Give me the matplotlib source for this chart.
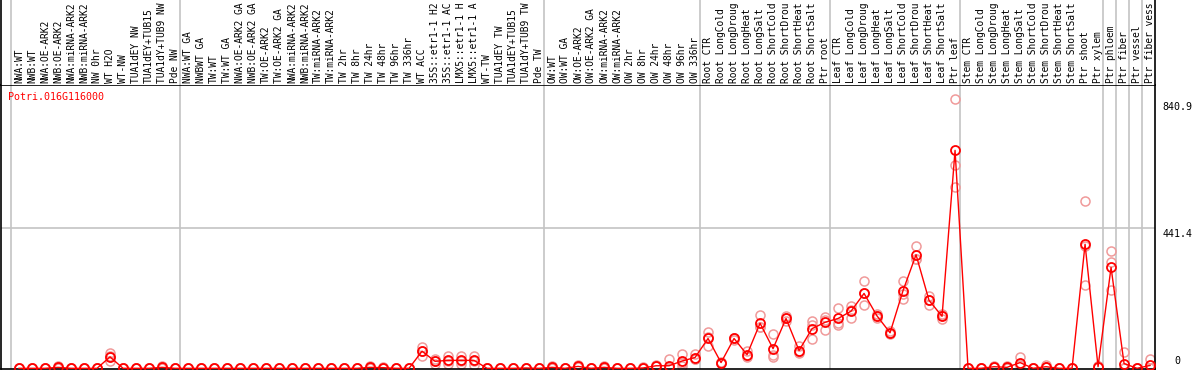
import matplotlib
matplotlib.use("Agg")
import matplotlib.pyplot as plt
import numpy as np

gene = "Potri.016G116000"

# sample names as far as the header shows them
labels = [
    # NW
    "NWA:WT", "NWB:WT", "NWA:OE-ARK2", "NWB:OE-ARK2", "NWA:miRNA-ARK2", "NWB:miRNA-ARK2",
    "NW 0hr", "WT H2O", "WT-NW", "TUA1dEY NW", "TUA1dEY+TUB15", "TUA1dY+TUB9 NW", "Pde NW",
    # TW
    "NWA:WT GA", "NWBWT GA", "TW:WT", "TW:WT GA", "NWA:OE-ARK2 GA", "NWB:OE-ARK2 GA",
    "TW:OE-ARK2", "TW:OE-ARK2 GA", "NWA:miRNA-ARK2", "NWB:miRNA-ARK2", "TW:miRNA-ARK2",
    "TW:miRNA-ARK2", "TW 2hr", "TW 8hr", "TW 24hr", "TW 48hr", "TW 96hr", "TW 336hr",
    "WT ACC", "35S::etr1-1 H2", "35S::etr1-1 AC", "LMX5::etr1-1 H", "LMX5::etr1-1 A",
    "WT-TW", "TUA1dEY TW", "TUA1dEY+TUB15", "TUA1dY+TUB9 TW", "Pde TW",
    # OW
    "OW:WT", "OW:WT GA", "OW:OE-ARK2", "OW:OE-ARK2 GA", "OW:miRNA-ARK2", "OW:miRNA-ARK2",
    "OW 2hr", "OW 8hr", "OW 24hr", "OW 48hr", "OW 96hr", "OW 336hr",
    # root
    "Root CTR", "Root LongCold", "Root LongDroug", "Root LongHeat", "Root LongSalt",
    "Root ShortCold", "Root ShortDrou", "Root ShortHeat", "Root ShortSalt", "Ptr root",
    # leaf
    "Leaf CTR", "Leaf LongCold", "Leaf LongDroug", "Leaf LongHeat", "Leaf LongSalt",
    "Leaf ShortCold", "Leaf ShortDrou", "Leaf ShortHeat", "Leaf ShortSalt", "Ptr leaf",
    # stem
    "Stem CTR", "Stem LongCold", "Stem LongDroug", "Stem LongHeat", "Stem LongSalt",
    "Stem ShortCold", "Stem ShortDrou", "Stem ShortHeat", "Stem ShortSalt", "Ptr shoot", "Ptr xylem",
    "Ptr phloem", "Ptr fiber", "Ptr vessel", "Ptr fiber vess",
]
group_sizes = [13, 28, 12, 10, 10, 11, 1, 1, 1, 1]

means = [
    0, 0, 0, 3, 0, 0, 0, 36, 0, 0, 0, 3, 0,
    0, 0, 0, 0, 0, 0, 0, 0, 0, 0, 0, 0, 0, 0, 3, 2, 0, 0,
    54, 22, 25, 25, 25, 0, 0, 0, 1, 0,
    3, 0, 6, 0, 3, 0, 0, 1, 8, 8, 23, 34,
    94, 18, 94, 43, 142, 62, 157, 56, 125, 145,
    157, 180, 236, 165, 112, 245, 358, 214, 164, 687,
    0, 0, 5, 3, 18, 0, 5, 0, 0, 391, 5,
    318, 15, 0, 9,
]
rep_a = [
    0, 0, 0, 8, 0, 0, 0, 48, 0, 0, 0, 6, 0,
    0, 0, 0, 0, 0, 0, 0, 0, 0, 0, 0, 0, 0, 0, 6, 4, 0, 0,
    67, 28, 40, 40, 40, 0, 0, 0, 2, 0,
    6, 0, 10, 0, 8, 0, 0, 3, 10, 28, 44, 44,
    113, 20, 97, 55, 167, 107, 164, 69, 148, 162,
    191, 197, 274, 172, 118, 276, 386, 216, 168, 850,
    0, 0, 8, 6, 35, 0, 9, 0, 0, 526, 3,
    369, 51, 0, 28,
]
rep_b = [
    0, 0, 0, 2, 0, 0, 0, 22, 0, 0, 0, 2, 0,
    0, 0, 0, 0, 0, 0, 0, 0, 0, 0, 0, 0, 0, 0, 2, 1, 0, 0,
    38, 15, 13, 13, 11, 0, 0, 0, 0, 0,
    1, 0, 3, 0, 1, 0, 0, 0, 6, 5, 17, 28,
    70, 16, 90, 36, 130, 36, 150, 48, 91, 120,
    136, 160, 199, 158, 107, 220, 343, 199, 155, 640,
    0, 0, 3, 1, 10, 0, 3, 0, 0, 262, 6,
    336, 0, 0, 0,
]
rep_c = [
    0, 0, 0, 0, 0, 0, 0, 38, 0, 0, 0, 1, 0,
    0, 0, 0, 0, 0, 0, 0, 0, 0, 0, 0, 0, 0, 0, 1, 1, 0, 0,
    56, 23, 22, 22, 24, 0, 0, 0, 1, 0,
    2, 0, 5, 0, 0, 0, 0, 0, 8, 2, 8, 30,
    99, 18, 95, 38, 129, 43, 157, 51, 136, 153,
    144, 183, 237, 165, 112, 233, 346, 227, 170, 572,
    0, 0, 4, 2, 9, 0, 3, 0, 0, 385, 6,
    247, 0, 0, 0,
]
ytick_vals = [0, 441.4, 840.9]

W, H = 1194, 370
fig = plt.figure(figsize=(W / 100, H / 100), dpi=100)
left, right = 1 / W, 1155 / W
top_px = 85
ax = fig.add_axes([left, 1 / H, right - left, (H - top_px - 1) / H])
hd = fig.add_axes([left, (H - top_px) / H, right - left, top_px / H])

x = np.arange(len(labels))
xlim = (-1.385, 87.38)
grey = "#c4c4c4"
mono = "DejaVu Sans Mono"

# group separators
seps = np.cumsum([0] + group_sizes[:-1]) - 0.5 - 0.1
for a in (ax, hd):
    a.set_xlim(*xlim)
    for s in seps:
        a.axvline(s, color=grey, lw=1.2, zorder=0)
    a.set_xticks([])
    a.set_yticks([])

ax.axhline(441.4, color=grey, lw=1.2, zorder=0)

# replicates
for r in (rep_a, rep_b, rep_c):
    ax.plot(x, r, ls="none", marker="o", ms=6.5, mfc="none", mec="#f09a9a", mew=1.1, zorder=2)
ax.plot(x, means, color="red", lw=1.0, zorder=3)
ax.plot(x, means, ls="none", marker="o", ms=6.5, mfc="none", mec="red", mew=1.3, zorder=4)

ax.set_ylim(-2.2, 893)
for s in ("left", "right", "top", "bottom"):
    ax.spines[s].set_color("black")
    ax.spines[s].set_linewidth(1.2)

ax.text(0.006, 0.975, gene, transform=ax.transAxes, color="red", family=mono,
        fontsize=7.2, va="top", ha="left")

# value labels on the right
for v, dy in zip(ytick_vals, [5, -4, -4]):
    ax.annotate(f"{v:g}", xy=(1.0, v), xycoords=("axes fraction", "data"),
                xytext=(16, dy), textcoords="offset points", family=mono,
                fontsize=7.2, ha="center", va="center", annotation_clip=False)

# header with sample names
hd.set_ylim(0, top_px)
hd.spines["top"].set_visible(False)
hd.spines["bottom"].set_visible(False)
for s in ("left", "right"):
    hd.spines[s].set_linewidth(1.2)
for i, lab in enumerate(labels):
    hd.text(i, 2, lab, rotation=90, ha="center", va="bottom", family=mono,
            fontsize=6.9, clip_on=False)

fig.savefig("out.png", dpi=100)
